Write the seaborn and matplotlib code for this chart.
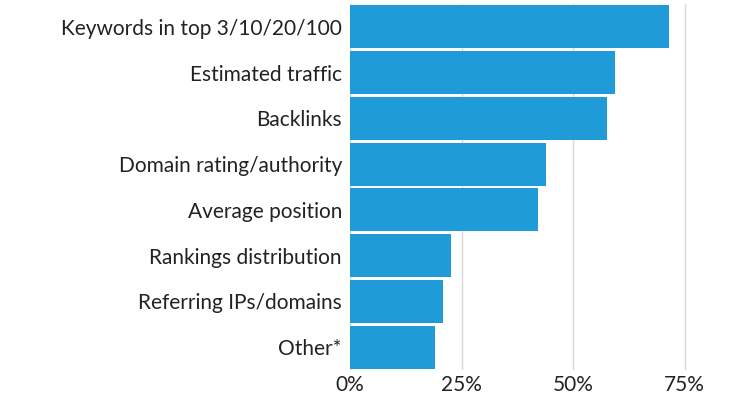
import matplotlib.pyplot as plt
import seaborn as sns
import pandas as pd
from matplotlib.ticker import FuncFormatter

metrics = ["Keywords in top 3/10/20/100", "Estimated traffic", "Backlinks",
           "Domain rating/authority", "Average position", "Rankings distribution",
           "Referring IPs/domains", "Other*"]
shares = [71.5, 59.3, 57.7, 44.0, 42.2, 22.5, 20.7, 19.1]

df = pd.DataFrame({"metric": metrics, "share": shares})

plt.rcParams["font.family"] = "Lato"
fig = plt.figure(figsize=(7.5, 4), dpi=100)
ax = fig.add_axes([0.467, 0.075, 0.523, 0.915])
sns.barplot(data=df, x="share", y="metric", color="#1f9bd7", saturation=1,
            width=0.94, ax=ax)
ax.set_xlim(0, 88)
ax.set_xticks([0, 25, 50, 75])
ax.xaxis.set_major_formatter(FuncFormatter(lambda v, p: f"{v:.0f}%"))
ax.grid(axis="x", color="#d9d9d9", linewidth=1)
ax.set_axisbelow(True)
for s in ax.spines.values():
    s.set_visible(False)
ax.tick_params(length=0, labelsize=15, colors="#222222")
ax.tick_params(axis="y", pad=6)
ax.set_xlabel("")
ax.set_ylabel("")
fig.savefig("out.png")
